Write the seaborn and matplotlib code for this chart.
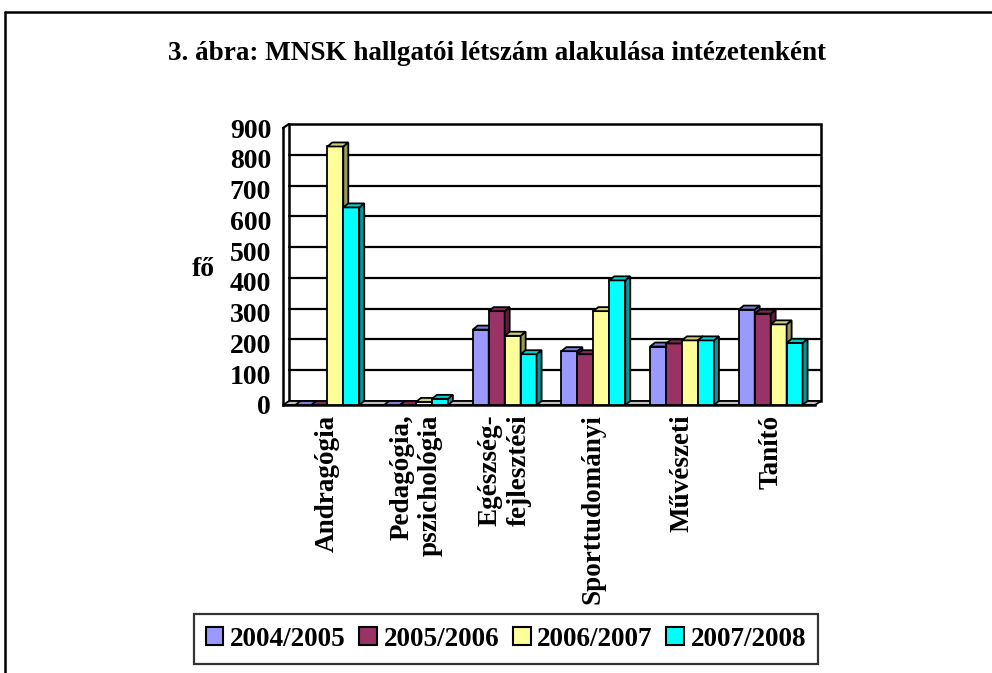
import matplotlib
matplotlib.use("Agg")
import matplotlib.pyplot as plt
import seaborn as sns
import pandas as pd
import numpy as np
from matplotlib.patches import Polygon, Rectangle, Patch
from matplotlib.lines import Line2D
from matplotlib.ticker import FixedLocator
import matplotlib.colors as mcolors

categories = ["Andragógia", "Pedagógia,\npszichológia", "Egészség-\nfejlesztési",
              "Sporttudományi", "Művészeti", "Tanító"]
series = ["2004/2005", "2005/2006", "2006/2007", "2007/2008"]
v2004 = [0, 0, 245, 175, 190, 310]
v2005 = [0, 0, 305, 165, 200, 297]
v2006 = [840, 10, 225, 305, 210, 262]
v2007 = [642, 20, 165, 405, 210, 202]
yticks = [0, 100, 200, 300, 400, 500, 600, 700, 800, 900]
title = "3. ábra: MNSK hallgatói létszám alakulása intézetenként"
ylabel = "fő"

colors = ["#9999FF", "#993366", "#FFFF99", "#00FFFF"]

sns.set_style("white")
plt.rcParams["font.family"] = ["Liberation Serif", "DejaVu Serif"]
plt.rcParams["font.weight"] = "bold"
for k in ["text.color", "axes.labelcolor", "xtick.color", "ytick.color"]:
    plt.rcParams[k] = "black"

rows = []
for s, vals in zip(series, [v2004, v2005, v2006, v2007]):
    for c, v in zip(categories, vals):
        rows.append({"cat": c, "year": s, "val": v})
df = pd.DataFrame(rows)

W, H = 992, 673
fig = plt.figure(figsize=(W / 100, H / 100), dpi=100)
L, R, B, T = 283, 815, 405, 128
ax = fig.add_axes([L / W, (H - B) / H, (R - L) / W, (B - T) / H])
ax.set_facecolor("none")

sns.barplot(data=df, x="cat", y="val", hue="year", order=categories, hue_order=series,
            palette=colors, width=0.72, edgecolor="black", linewidth=1.3,
            ax=ax, legend=False, saturation=1, errorbar=None)
bars = list(ax.patches)

ax.set_xlim(-0.5, 5.5)
ax.set_ylim(0, 900)

# pixel -> data conversions
px_x = 6.0 / (R - L)
px_y = 900.0 / (B - T)
wdx, wdy = 6 * px_x, 4 * px_y     # wall depth
bdx, bdy = 5 * px_x, 4 * px_y     # bar depth

# back wall and gridlines
wall = Rectangle((-0.5 + wdx, wdy), 6, 900, facecolor="white", edgecolor="black",
                 linewidth=1.8, clip_on=False, zorder=0.5)
ax.add_patch(wall)
for y in yticks[1:-1]:
    ax.add_line(Line2D([-0.5 + wdx, 5.5 + wdx], [y + wdy, y + wdy], color="black",
                       linewidth=1.6, clip_on=False, zorder=0.6))
# side wall top edge
ax.add_line(Line2D([-0.5, -0.5 + wdx], [900, 900 + wdy], color="black",
                   linewidth=1.6, clip_on=False, zorder=0.6))
# floor
floor = Polygon([(-0.5, 0), (5.5, 0), (5.5 + wdx, wdy), (-0.5 + wdx, wdy)],
                closed=True, facecolor="#c0c0c0", edgecolor="black", linewidth=1.3,
                clip_on=False, zorder=0.7)
ax.add_patch(floor)


def shade(c, f):
    r, g, b = mcolors.to_rgb(c)
    return (r * f, g * f, b * f)


bars_sorted = sorted(bars, key=lambda p: p.get_x())
for i, p in enumerate(bars_sorted):
    x0 = p.get_x()
    x1 = x0 + p.get_width()
    h = p.get_height()
    fc = p.get_facecolor()
    z = 3 + i * 0.01
    p.set_zorder(z)
    p.set_clip_on(False)
    side = Polygon([(x1, 0), (x1 + bdx, bdy), (x1 + bdx, h + bdy), (x1, h)], closed=True,
                   facecolor=shade(fc, 0.6), edgecolor="black", linewidth=1.3,
                   clip_on=False, zorder=z + 0.001)
    top = Polygon([(x0, h), (x1, h), (x1 + bdx, h + bdy), (x0 + bdx, h + bdy)], closed=True,
                  facecolor=shade(fc, 0.82), edgecolor="black", linewidth=1.3,
                  clip_on=False, zorder=z + 0.002)
    ax.add_patch(side)
    ax.add_patch(top)

# axes styling
for s in ["top", "right"]:
    ax.spines[s].set_visible(False)
for s in ["left", "bottom"]:
    ax.spines[s].set_color("black")
    ax.spines[s].set_linewidth(1.8)
    ax.spines[s].set_zorder(2)

ax.set_yticks(yticks)
ax.set_yticklabels([str(v) for v in yticks], fontsize=20, fontweight="bold", color="black")
ax.tick_params(axis="y", direction="inout", length=9, width=1.6, color="black", pad=4)

ax.set_xticks(range(len(categories)))
ax.set_xticklabels(categories, rotation=90, fontsize=19.5, fontweight="bold", color="black",
                   ha="center", va="top", multialignment="right")
ax.tick_params(axis="x", which="major", length=0, pad=7)
ax.xaxis.set_minor_locator(FixedLocator([-0.5, 1.5, 3.5, 5.5]))
ax.tick_params(axis="x", which="minor", direction="out", length=7, width=1.6, color="black")
ax.set_xlabel("")
ax.set_ylabel("")

fig.text(203 / W, 1 - 270 / H, ylabel, fontsize=20, fontweight="bold", color="black",
         ha="center", va="center")
fig.text(497 / W, 1 - 54 / H, title, fontsize=19.5, fontweight="bold", color="black",
         ha="center", va="center")

# legend
handles = [Patch(facecolor=c, edgecolor="black", linewidth=1.5) for c in colors]
leg = fig.legend(handles, series, loc="center", bbox_to_anchor=(506 / W, 1 - 639 / H),
                 ncol=4, frameon=True, fancybox=False,
                 handlelength=0.65, handleheight=0.65, handletextpad=0.25,
                 columnspacing=0.5, borderpad=0.45,
                 prop={"family": ["Liberation Serif"], "weight": "bold", "size": 19.5})
for t in leg.get_texts():
    t.set_color("black")
leg.get_frame().set_edgecolor("black")
leg.get_frame().set_linewidth(1.6)

# outer frame
fig.add_artist(Line2D([5 / W, 5 / W], [0, 1 - 12 / H], transform=fig.transFigure,
                      color="black", linewidth=1.8))
fig.add_artist(Line2D([5 / W, 1], [1 - 12 / H, 1 - 12 / H], transform=fig.transFigure,
                      color="black", linewidth=1.8))

fig.savefig("out.png", dpi=100, facecolor="white")
